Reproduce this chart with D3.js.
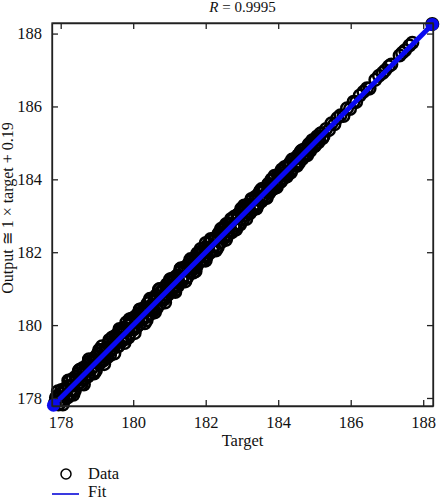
<!DOCTYPE html>
<html>
<head>
<meta charset="utf-8">
<script src="https://cdn.jsdelivr.net/npm/d3@7"></script>
<style>
    body { margin: 0; background: #fff; }
    svg text { font-family: "Liberation Serif", "DejaVu Serif", serif; fill: #111; }
</style>
</head>
<body>
<svg id="chart" width="443" height="500"></svg>
<script>
// targets / outputs (first pass along the band)
var target = [
    177.84, 177.90, 177.97, 178.02, 178.08, 178.13, 178.19, 178.25, 178.30, 178.36,
    178.41, 178.47, 178.52, 178.58, 178.64, 178.69, 178.75, 178.80, 178.86, 178.92,
    178.97, 179.03, 179.08, 179.14, 179.20, 179.25, 179.31, 179.36, 179.42, 179.48,
    179.53, 179.59, 179.64, 179.70, 179.76, 179.81, 179.87, 179.92, 179.98, 180.04,
    180.09, 180.15, 180.20, 180.26, 180.32, 180.37, 180.43, 180.48, 180.54, 180.60,
    180.65, 180.71, 180.76, 180.82, 180.88, 180.93, 180.99, 181.04, 181.10, 181.16,
    181.21, 181.27, 181.32, 181.38, 181.44, 181.49, 181.55, 181.60, 181.66, 181.72,
    181.77, 181.83, 181.88, 181.94, 182.00, 182.05, 182.11, 182.16, 182.22, 182.28,
    182.33, 182.39, 182.44, 182.50, 182.56, 182.61, 182.67, 182.72, 182.78, 182.84,
    182.89, 182.95, 183.00, 183.06, 183.12, 183.17, 183.23, 183.28, 183.34, 183.40,
    183.45, 183.51, 183.56, 183.62, 183.68, 183.73, 183.79, 183.84, 183.90, 183.96,
    184.01, 184.07, 184.12, 184.18, 184.24, 184.29, 184.35, 184.40, 184.46, 184.52,
    184.57, 184.63, 184.68, 184.74, 184.80, 184.85, 184.91, 184.96, 185.02, 185.08,
    185.13, 185.19, 185.25, 185.32, 185.40, 185.47, 185.55, 185.63,
    185.72, 185.80, 185.90, 185.98, 186.08, 186.15, 186.25, 186.35, 186.45, 186.52,
    186.68, 186.78, 186.88, 186.95, 187.05, 187.12, 187.35, 187.42, 187.50, 187.62,
    187.70, 188.25
];

var output = [
    177.86, 178.05, 177.85, 178.22, 178.03, 178.23, 178.01, 178.47, 178.33, 178.22,
    178.58, 178.39, 178.77, 178.38, 178.70, 178.83, 178.59, 179.01, 178.83, 179.03,
    178.75, 179.22, 179.01, 179.42, 179.07, 179.33, 179.47, 179.17, 179.66, 179.44,
    179.66, 179.42, 179.85, 179.60, 179.81, 180.07, 179.66, 180.04, 179.92, 180.22,
    179.94, 180.24, 180.43, 180.15, 180.48, 180.13, 180.47, 180.68, 180.45, 180.74,
    180.46, 180.98, 180.74, 180.93, 180.74, 181.12, 180.91, 181.26, 181.17, 180.96,
    181.36, 181.15, 181.56, 181.33, 181.54, 181.31, 181.72, 181.62, 181.44, 181.85,
    181.97, 181.74, 181.94, 181.78, 182.25, 182.06, 181.98, 182.34, 182.15, 182.40,
    182.13, 182.55, 182.48, 182.38, 182.77, 182.58, 182.76, 182.55, 182.97, 182.78,
    183.03, 182.76, 183.08, 183.28, 183.02, 183.20, 183.08, 183.45, 183.30, 183.51,
    183.32, 183.69, 183.50, 183.71, 183.50, 183.88, 183.81, 183.73, 184.10, 183.88,
    184.13, 183.93, 184.17, 184.34, 184.15, 184.39, 184.19, 184.53, 184.44, 184.60,
    184.45, 184.77, 184.63, 184.83, 184.70, 184.97, 184.87, 185.03, 184.93, 185.18,
    185.10, 185.27, 185.18, 185.38, 185.35, 185.54, 185.51, 185.68,
    185.76, 185.74, 185.95, 185.93, 186.13, 186.12, 186.30, 186.40, 186.50, 186.49,
    186.73, 186.84, 186.92, 186.99, 187.10, 187.15, 187.40, 187.47, 187.54, 187.67,
    187.75, 188.26
];

// second pass, filling the dense part of the band
var target2 = [
    177.87, 177.94, 178.00, 178.05, 178.11, 178.16, 178.22, 178.28, 178.33, 178.39,
    178.44, 178.50, 178.55, 178.61, 178.67, 178.72, 178.78, 178.83, 178.89, 178.95,
    179.00, 179.06, 179.11, 179.17, 179.23, 179.28, 179.34, 179.39, 179.45, 179.51,
    179.56, 179.62, 179.67, 179.73, 179.79, 179.84, 179.90, 179.95, 180.01, 180.07,
    180.12, 180.18, 180.23, 180.29, 180.35, 180.40, 180.46, 180.51, 180.57, 180.63,
    180.68, 180.74, 180.79, 180.85, 180.91, 180.96, 181.02, 181.07, 181.13, 181.19,
    181.24, 181.30, 181.35, 181.41, 181.47, 181.52, 181.58, 181.63, 181.69, 181.75,
    181.80, 181.86, 181.91, 181.97, 182.03, 182.08, 182.14, 182.19, 182.25, 182.31,
    182.36, 182.42, 182.47, 182.53, 182.59, 182.64, 182.70, 182.75, 182.81, 182.87,
    182.92, 182.98, 183.03, 183.09, 183.15, 183.20, 183.26, 183.31, 183.37, 183.43,
    183.48, 183.54, 183.59, 183.65, 183.71, 183.76, 183.82, 183.87, 183.93, 183.99,
    184.04, 184.10, 184.15, 184.21, 184.27, 184.32, 184.38, 184.43, 184.49, 184.55,
    184.60, 184.66, 184.71, 184.77, 184.83, 184.88, 184.94, 184.99, 185.05, 185.11,
    185.16, 185.22
];

var output2 = [
    178.01, 177.82, 178.12, 177.94, 178.25, 178.04, 178.33, 178.10, 178.52, 178.20,
    178.52, 178.68, 178.44, 178.82, 178.54, 178.90, 178.66, 178.97, 178.71, 179.12,
    179.14, 178.93, 179.30, 179.02, 179.35, 179.11, 179.53, 179.30, 179.49, 179.71,
    179.41, 179.79, 179.55, 179.92, 179.62, 179.98, 179.76, 180.17, 179.88, 180.21,
    180.30, 180.02, 180.37, 180.35, 180.22, 180.60, 180.30, 180.55, 180.40, 180.81,
    180.80, 180.58, 180.95, 180.70, 181.05, 180.83, 181.18, 180.96, 181.30, 181.06,
    181.08, 181.47, 181.22, 181.58, 181.30, 181.66, 181.46, 181.80, 181.56, 181.62,
    181.95, 182.02, 181.77, 182.12, 181.88, 182.23, 182.30, 182.05, 182.38, 182.15,
    182.52, 182.27, 182.62, 182.69, 182.44, 182.78, 182.56, 182.90, 182.67, 183.02,
    182.78, 183.14, 182.89, 183.23, 183.30, 183.06, 183.41, 183.17, 183.52, 183.29,
    183.63, 183.40, 183.74, 183.51, 183.84, 183.63, 183.96, 183.75, 183.80, 184.12,
    183.92, 184.23, 184.03, 184.33, 184.15, 184.44, 184.27, 184.55, 184.38, 184.66,
    184.71, 184.56, 184.81, 184.67, 184.93, 184.78, 185.04, 184.90, 185.14, 185.02,
    185.25, 185.13
];

// third pass: points at the outer edges and near the middle of the band
var target3 = [
    177.92, 177.99, 178.06, 178.14, 178.21, 178.28, 178.35, 178.43, 178.50, 178.57,
    178.64, 178.71, 178.78, 178.85, 178.92, 178.99, 179.06, 179.13, 179.20, 179.27,
    179.34, 179.41, 179.48, 179.55, 179.62, 179.69, 179.76, 179.83, 179.90, 179.97,
    180.04, 180.11, 180.18, 180.25, 180.32, 180.39, 180.46, 180.53, 180.60, 180.67,
    180.74, 180.81, 180.88, 180.95, 181.02, 181.09, 181.16, 181.23, 181.30, 181.37,
    181.44, 181.51, 181.58, 181.65, 181.72, 181.79, 181.86, 181.93, 182.00, 182.07,
    182.14, 182.21, 182.28, 182.35, 182.42, 182.49, 182.56, 182.63, 182.70, 182.77,
    182.84, 182.91, 182.98, 183.05, 183.12, 183.19, 183.26, 183.33, 183.40, 183.47,
    183.54, 183.61, 183.68, 183.75, 183.82, 183.89, 183.96, 184.03, 184.10, 184.17,
    184.24, 184.31, 184.38, 184.45, 184.52, 184.59, 184.66, 184.73, 184.80, 184.87,
    184.94, 185.01
];

var output3 = [
    178.18, 177.94, 177.82, 178.20, 178.48, 178.22, 178.09, 178.47, 178.75, 178.52,
    178.37, 178.77, 179.06, 178.81, 178.67, 179.04, 179.32, 179.07, 178.93, 179.31,
    179.59, 179.36, 179.22, 179.61, 179.89, 179.65, 179.51, 179.88, 180.16, 179.91,
    179.78, 180.15, 180.43, 180.20, 180.05, 180.45, 180.72, 180.49, 180.35, 180.72,
    180.99, 180.75, 180.62, 180.99, 181.26, 181.04, 180.91, 181.29, 181.54, 181.33,
    181.20, 181.56, 181.81, 181.59, 181.48, 181.83, 182.09, 181.88, 181.77, 182.13,
    182.36, 182.17, 182.05, 182.40, 182.64, 182.43, 182.34, 182.67, 182.91, 182.72,
    182.62, 182.97, 183.19, 183.01, 182.91, 183.24, 183.46, 183.27, 183.20, 183.51,
    183.73, 183.56, 183.49, 183.80, 184.00, 183.85, 183.78, 184.07, 184.27, 184.12,
    184.08, 184.35, 184.54, 184.41, 184.37, 184.63, 184.80, 184.70, 184.66, 184.90,
    185.07, 184.98
];

// fit line end points (target, output)
var fitTarget = [177.80, 188.25];
var fitOutput = [177.80, 188.25];

var tickValues = [178, 180, 182, 184, 186, 188];
var titleValue = "0.9995";
var yLabel = "Output \u2245 1 \u00d7 target + 0.19";
var xLabel = "Target";
var legendItems = ["Data", "Fit"];

var svg = d3.select('#chart');

var plotLeft = 52, plotRight = 433, plotTop = 23, plotBottom = 406;

var x = d3.scaleLinear().domain([177.76, 188.27]).range([plotLeft, plotRight]);
var y = d3.scaleLinear().domain([177.78, 188.29]).range([plotBottom, plotTop]);

// data circles
var points = d3.zip(target, output)
    .concat(d3.zip(target2, output2))
    .concat(d3.zip(target3, output3));
svg.append('g')
    .selectAll('circle')
    .data(points)
    .enter()
    .append('circle')
    .attr('cx', function(d) { return x(d[0]); })
    .attr('cy', function(d) { return y(d[1]); })
    .attr('r', 5.8)
    .attr('fill', 'none')
    .attr('stroke', '#000')
    .attr('stroke-width', 2.5);

// fit line
var fit = d3.zip(fitTarget, fitOutput);
svg.append('path')
    .datum(fit)
    .attr('d', d3.line()
        .x(function(d) { return x(d[0]); })
        .y(function(d) { return y(d[1]); }))
    .attr('stroke', '#0a0af0')
    .attr('stroke-width', 5)
    .attr('fill', 'none');

svg.append('g')
    .selectAll('circle')
    .data(fit)
    .enter()
    .append('circle')
    .attr('cx', function(d) { return x(d[0]); })
    .attr('cy', function(d) { return y(d[1]); })
    .attr('r', 6.5)
    .attr('fill', '#0a0af0');

// axes, ticks pointing inward on all four sides
var tickSize = 6;
var axes = [
    { a: d3.axisBottom(x), t: 'translate(0,' + plotBottom + ')', labels: true },
    { a: d3.axisTop(x), t: 'translate(0,' + plotTop + ')', labels: false },
    { a: d3.axisLeft(y), t: 'translate(' + plotLeft + ',0)', labels: true },
    { a: d3.axisRight(y), t: 'translate(' + plotRight + ',0)', labels: false }
];

axes.forEach(function(ax) {
    var g = svg.append('g')
        .attr('transform', ax.t)
        .call(ax.a.tickValues(tickValues).tickSizeInner(-tickSize).tickSizeOuter(0).tickPadding(10));
    g.select('.domain').attr('stroke', '#222').attr('stroke-width', 1.3);
    g.selectAll('.tick line').attr('stroke', '#222').attr('stroke-width', 1.3);
    g.selectAll('.tick text')
        .style('font-size', '16.5px')
        .attr('fill', '#111');
    if (!ax.labels) g.selectAll('.tick text').remove();
});

// close the frame corners
svg.append('rect')
    .attr('x', plotLeft).attr('y', plotTop)
    .attr('width', plotRight - plotLeft).attr('height', plotBottom - plotTop)
    .attr('fill', 'none')
    .attr('stroke', '#222')
    .attr('stroke-width', 1.3);

// title
var title = svg.append('text')
    .attr('x', (plotLeft + plotRight) / 2)
    .attr('y', 12)
    .attr('text-anchor', 'middle')
    .style('font-size', '15px');
title.append('tspan').style('font-style', 'italic').text('R');
title.append('tspan').text(' = ' + titleValue);

// axis labels
svg.append('text')
    .attr('x', (plotLeft + plotRight) / 2)
    .attr('y', 446)
    .attr('text-anchor', 'middle')
    .style('font-size', '16.5px')
    .text(xLabel);

svg.append('text')
    .attr('transform', 'translate(13,' + 208 + ') rotate(-90)')
    .attr('text-anchor', 'middle')
    .style('font-size', '16px')
    .text(yLabel);

// legend
var legend = svg.append('g');
legend.append('circle')
    .attr('cx', 66).attr('cy', 474)
    .attr('r', 5)
    .attr('fill', 'none')
    .attr('stroke', '#000')
    .attr('stroke-width', 1.5);
legend.append('line')
    .attr('x1', 52).attr('x2', 79)
    .attr('y1', 494).attr('y2', 494)
    .attr('stroke', '#3a3ae0')
    .attr('stroke-width', 2);
legend.selectAll('text')
    .data(legendItems)
    .enter()
    .append('text')
    .attr('x', 88)
    .attr('y', function(d, i) { return 479 + i * 18; })
    .style('font-size', '16.5px')
    .text(function(d) { return d; });
</script>
</body>
</html>
